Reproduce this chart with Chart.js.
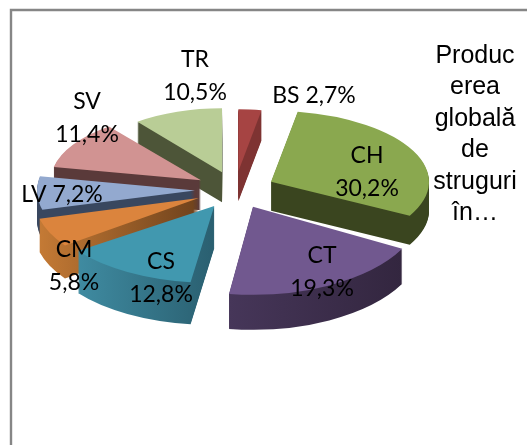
<!DOCTYPE html>
<html>
<head>
<meta charset="utf-8">
<style>
html, body { margin: 0; padding: 0; background: #fff; }
#wrap { position: relative; width: 527px; height: 445px; }
</style>
<script src="https://cdn.jsdelivr.net/npm/chart.js@4"></script>
</head>
<body>
<div id="wrap"><canvas id="myChart" width="527" height="445"></canvas></div>
<script>
const categories = ["BS", "CH", "CT", "CS", "CM", "LV", "SV", "TR"];
const shares = [2.7, 30.2, 19.3, 12.8, 5.8, 7.2, 11.4, 10.5];
const shareLabels = ["2,7%", "30,2%", "19,3%", "12,8%", "5,8%", "7,2%", "11,4%", "10,5%"];
const titleLines = ["Produc", "erea", "globală", "de", "struguri", "în…"];

// styles
const topColors = ["#a64443", "#8aa84f", "#71588f", "#4198af", "#db843d", "#93a9cf", "#d19392", "#b9cd96"];
// side wall colours, left end and right end of each slice
const sideLeft = ["#7e3332", "#3a451f", "#463659", "#3f8ba1", "#c47a35", "#39475f", "#5a3a3a", "#4d5538"];
const sideRight = ["#7e3332", "#3a451f", "#33263f", "#2a5f70", "#6f421c", "#39475f", "#5a3a3a", "#4d5538"];
// perspective of the 3D pie: far slices are smaller than near ones
const radiusX = [137, 158, 170, 168, 165, 158, 150, 138];
const radiusY = [62, 71, 88, 77, 81, 75, 68, 64];
const depths = [30, 29, 35, 42, 33, 30, 30, 30];
const paintOrder = [0, 7, 6, 5, 1, 4, 3, 2];
const labelPos = [[314, 96], [367, 172], [322, 272], [161, 278], [74, 266], [62, 195], [87, 118], [195, 76]];
const inlineLabel = [true, false, false, false, false, true, false, false];

const pieCx = 235, pieCy = 190, explode = 40, explodeSquash = 0.47;

// horizontal gradient over the width of one slice, in the arc's own coordinates
function sideGradient(ctx, arc, i) {
    const xs = [0, Math.cos(arc.startAngle), Math.cos(arc.endAngle)];
    const g = ctx.createLinearGradient(
        arc.x + Math.min(...xs) * arc.outerRadius, 0,
        arc.x + Math.max(...xs) * arc.outerRadius, 0
    );
    g.addColorStop(0, sideLeft[i]);
    g.addColorStop(1, sideRight[i]);
    return g;
}

const pie3d = {
    id: "pie3d",
    beforeDatasetsDraw(chart) {
        const ctx = chart.ctx;
        const arcs = chart.getDatasetMeta(0).data;
        paintOrder.forEach(i => {
            const arc = arcs[i];
            const sx = radiusX[i] / arc.outerRadius;
            const sy = radiusY[i] / arc.outerRadius;
            const mid = (arc.startAngle + arc.endAngle) / 2;
            const ox = pieCx + Math.cos(mid) * explode;
            const oy = pieCy + Math.sin(mid) * explode * explodeSquash;
            const opts = arc.options;
            const fill = opts.backgroundColor;
            const side = sideGradient(ctx, arc, i);
            // side wall first, stacked from the bottom up
            for (let d = depths[i]; d >= 0; d--) {
                ctx.save();
                ctx.translate(ox, oy + d);
                ctx.scale(sx, sy);
                ctx.translate(-arc.x, -arc.y);
                opts.backgroundColor = d === 0 ? fill : side;
                opts.borderColor = opts.backgroundColor;
                arc.draw(ctx);
                ctx.restore();
            }
            opts.backgroundColor = fill;
        });
        // labels
        ctx.save();
        ctx.fillStyle = "#000";
        ctx.textAlign = "center";
        ctx.textBaseline = "middle";
        ctx.font = "23px Lato";
        categories.forEach((name, i) => {
            const [x, y] = labelPos[i];
            if (inlineLabel[i]) {
                ctx.fillText(name + " " + shareLabels[i], x, y);
            } else {
                ctx.fillText(name, x, y - 16);
                ctx.fillText(shareLabels[i], x, y + 17);
            }
        });
        // title
        ctx.font = "25px 'Liberation Sans'";
        titleLines.forEach((line, i) => ctx.fillText(line, 475, 56 + i * 31.5));
        ctx.restore();
        return false;
    }
};

new Chart(document.getElementById("myChart"), {
    type: "pie",
    data: {
        labels: categories,
        datasets: [{
            data: shares,
            backgroundColor: topColors,
            borderWidth: 0
        }]
    },
    options: {
        responsive: false,
        animation: false,
        layout: { padding: 0 },
        plugins: { legend: { display: false }, tooltip: { enabled: false } }
    },
    plugins: [pie3d, {
        id: "frame",
        beforeDraw(chart) {
            const ctx = chart.ctx;
            ctx.save();
            ctx.strokeStyle = "#868686";
            ctx.lineWidth = 2.4;
            ctx.beginPath();
            ctx.moveTo(11, 445);
            ctx.lineTo(11, 10);
            ctx.lineTo(527, 10);
            ctx.stroke();
            ctx.restore();
        }
    }]
});
</script>
</body>
</html>
